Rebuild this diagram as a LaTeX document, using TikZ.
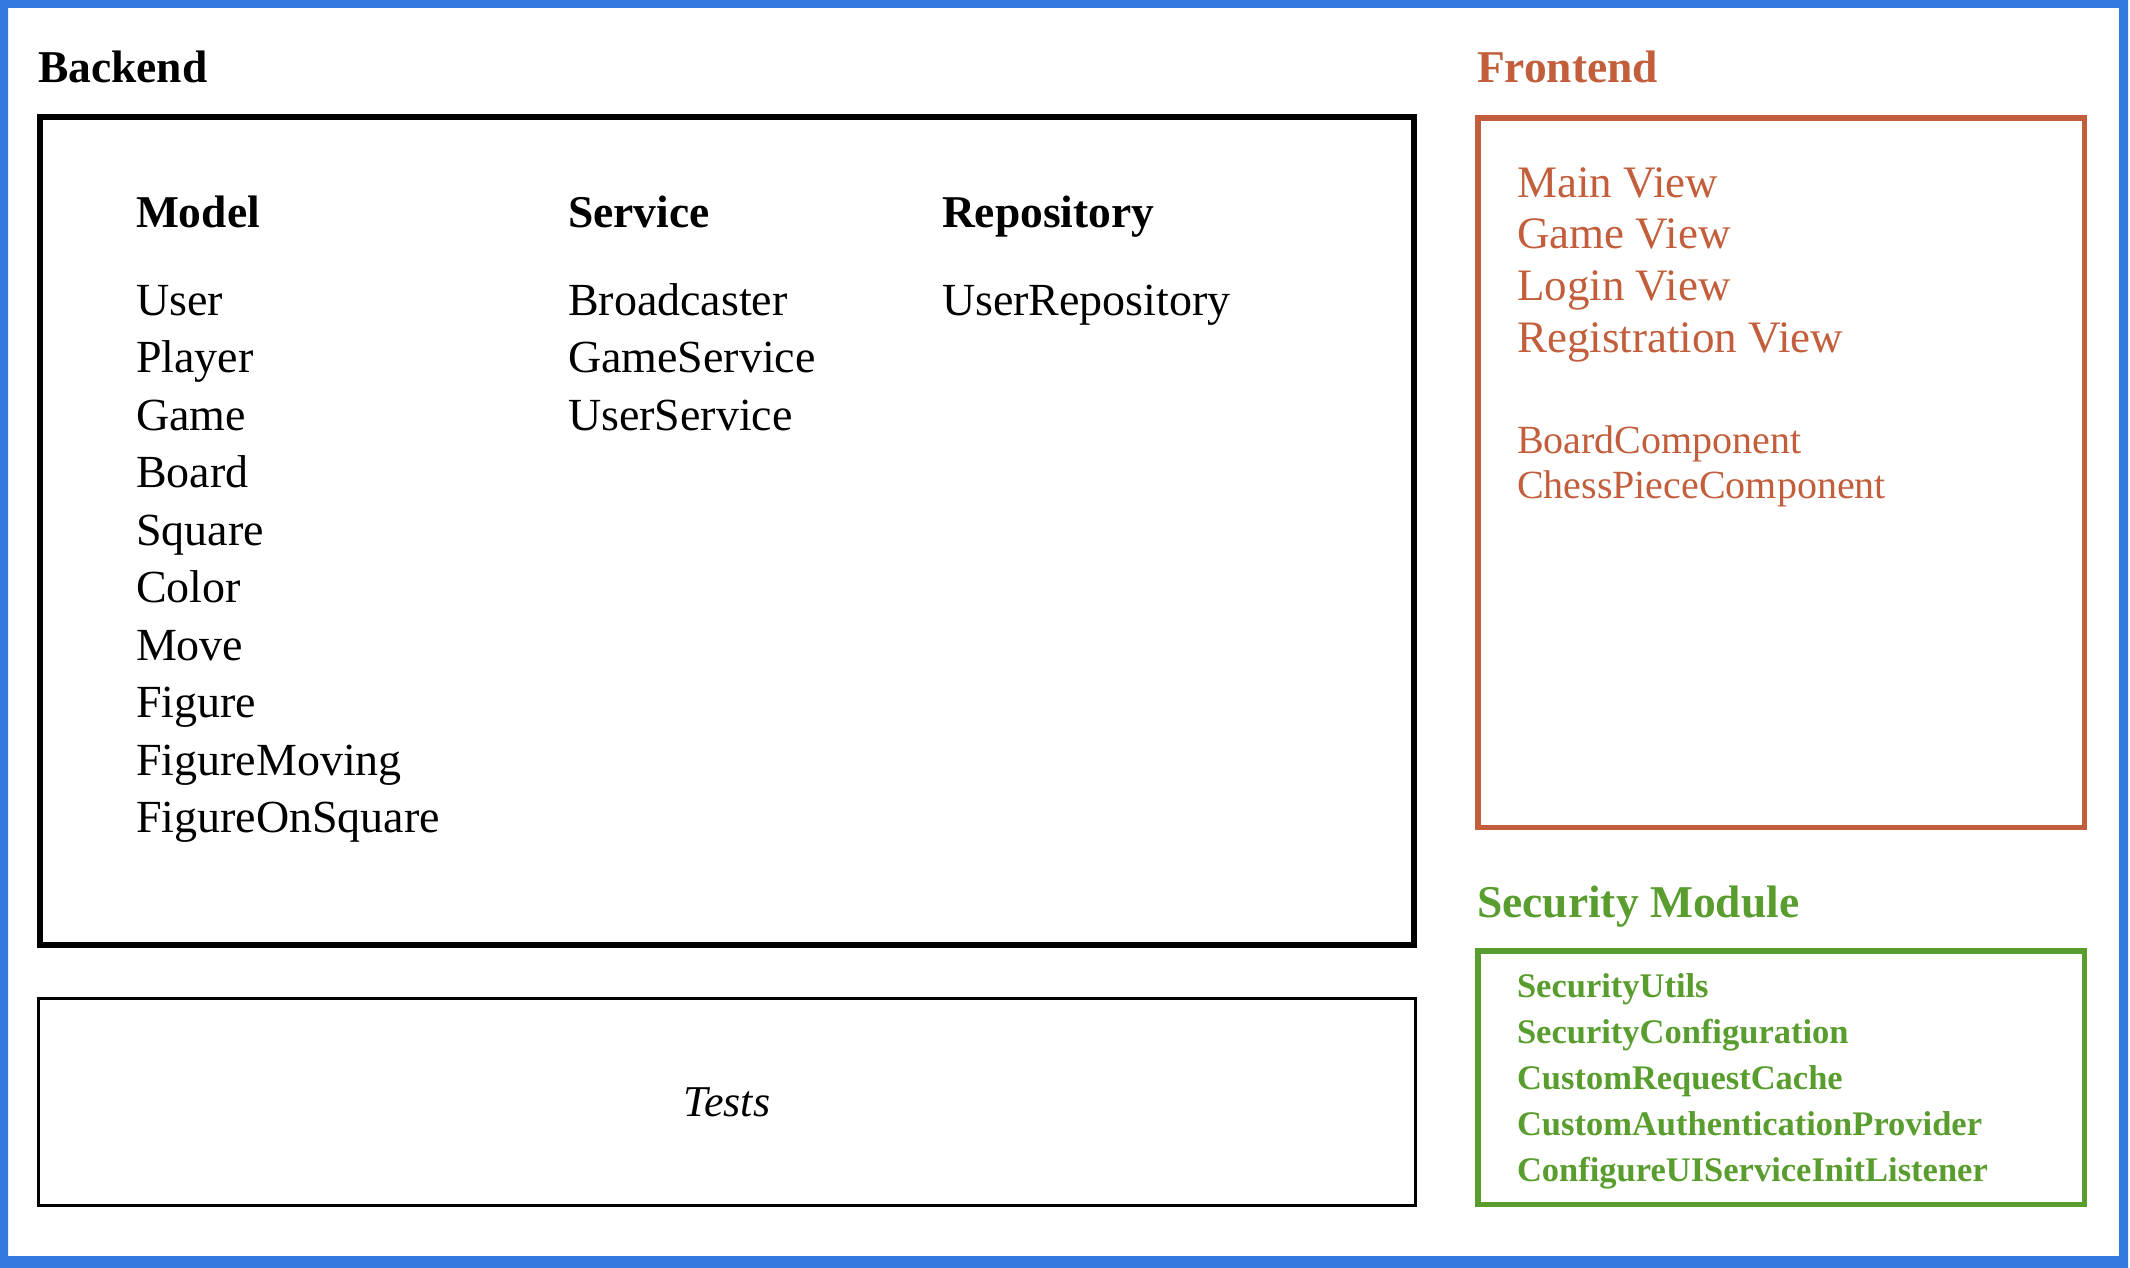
\documentclass[tikz,border=0pt]{standalone}
\usepackage{fontspec}
\setmainfont{Liberation Serif}
\definecolor{frameblue}{RGB}{52,121,224}
\definecolor{feorange}{RGB}{194,94,59}
\definecolor{secgreen}{RGB}{90,157,47}
\begin{document}
\begin{tikzpicture}[x=1pt,y=-1pt,
  txt/.style={anchor=base west, inner sep=0pt, outer sep=0pt},
  hdr/.style={txt, font=\fontsize{45.5}{54}\selectfont\bfseries},
  item/.style={txt, font=\fontsize{46}{54}\selectfont},
  view/.style={txt, text=feorange, font=\fontsize{45}{54}\selectfont},
  comp/.style={txt, text=feorange, font=\fontsize{40}{48}\selectfont},
  secitem/.style={txt, text=secgreen, font=\fontsize{34.5}{42}\selectfont\bfseries},
  boxshape/.style={draw, rectangle, inner sep=0pt, outer sep=0pt}]
\useasboundingbox (0,0) rectangle (2130,1268);
\fill[white] (0,0) rectangle (2130,1268);
\fill[frameblue, even odd rule] (0,0) rectangle (2128,1268) (8,8) rectangle (2119,1256);

% boxes
\node[boxshape, line width=5.5pt, minimum width=1374pt, minimum height=828pt] (backendbox) at (727,531) {};
\node[boxshape, line width=2.5pt, minimum width=1377pt, minimum height=207pt,
      font=\fontsize{44}{52}\selectfont\itshape] (testsbox) at (727,1102) {Tests};
\node[boxshape, draw=feorange, line width=5.5pt, minimum width=606.5pt, minimum height=709.5pt] (frontbox) at (1781.25,472.75) {};
\node[boxshape, draw=secgreen, line width=5.5pt, minimum width=606.5pt, minimum height=253.5pt] (secbox) at (1781.25,1077.75) {};

% section titles
\node[hdr] (backend) at (38,83) {Backend};
\node[hdr, text=feorange] (frontend) at (1477,83) {Frontend};
\node[hdr, text=secgreen] (security) at (1477,917) {Security Module};

% backend columns
\node[hdr] (model) at (136,227) {Model};
\node[hdr] (service) at (568,227) {Service};
\node[hdr] (repository) at (942,227) {Repository};

\foreach \t [count=\i from 0] in {User,Player,Game,Board,Square,Color,Move,Figure,FigureMoving,FigureOnSquare}
  \node[item] (m\i) at (136,315+57.5*\i) {\t};
\foreach \t [count=\i from 0] in {Broadcaster,GameService,UserService}
  \node[item] (s\i) at (568,315+57.5*\i) {\t};
\node[item] (r0) at (942,315) {UserRepository};

% frontend
\foreach \t [count=\i from 0] in {Main View,Game View,Login View,Registration View}
  \node[view] (v\i) at (1517,197+51.7*\i) {\t};
\node[comp] (c0) at (1517,453) {BoardComponent};
\node[comp] (c1) at (1517,498) {ChessPieceComponent};

% security
\foreach \t [count=\i from 0] in {SecurityUtils,SecurityConfiguration,CustomRequestCache,CustomAuthenticationProvider,ConfigureUIServiceInitListener}
  \node[secitem] (sec\i) at (1517,997+46*\i) {\t};
\end{tikzpicture}
\end{document}
